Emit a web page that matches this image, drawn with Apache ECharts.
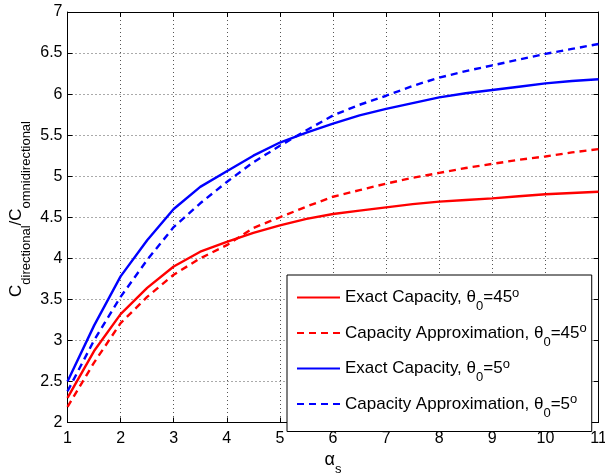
<!DOCTYPE html>
<html>
<head>
<meta charset="utf-8">
<script src="https://cdn.jsdelivr.net/npm/echarts@6/dist/echarts.min.js"></script>
<style>html,body{margin:0;padding:0;background:#fff}#chart{width:605px;height:475px}</style>
</head>
<body>
<div id="chart"></div>
<script>
const alphaS = [1, 1.5, 2, 2.5, 3, 3.5, 4, 4.5, 5, 5.5, 6, 6.5, 7, 7.5, 8, 8.5, 9, 9.5, 10, 10.5, 11];
const exact45 = [2.30, 2.87, 3.32, 3.64, 3.90, 4.08, 4.20, 4.31, 4.40, 4.48, 4.54, 4.58, 4.62, 4.66, 4.69, 4.71, 4.73, 4.755, 4.78, 4.795, 4.81];
const approx45 = [2.19, 2.73, 3.21, 3.53, 3.80, 4.00, 4.16, 4.37, 4.50, 4.63, 4.75, 4.83, 4.91, 4.98, 5.04, 5.10, 5.15, 5.20, 5.24, 5.29, 5.33];
const exact5 = [2.50, 3.18, 3.78, 4.22, 4.60, 4.87, 5.06, 5.25, 5.41, 5.53, 5.64, 5.74, 5.82, 5.89, 5.96, 6.01, 6.05, 6.09, 6.13, 6.16, 6.18];
const approx5 = [2.38, 3.00, 3.53, 3.98, 4.38, 4.67, 4.93, 5.17, 5.37, 5.56, 5.74, 5.87, 5.98, 6.10, 6.20, 6.28, 6.35, 6.42, 6.49, 6.55, 6.61];
const seriesNames = ['Exact Capacity, θ0=45o', 'Capacity Approximation, θ0=45o', 'Exact Capacity, θ0=5o', 'Capacity Approximation, θ0=5o'];
const xTicks = {min: 1, max: 11, interval: 1};
const yTicks = {min: 2, max: 7, interval: 0.5};

const FONT = 'Liberation Sans';
const pairs = arr => alphaS.map((a, i) => [a, arr[i]]);
const mk = (name, data, color, dashed) => ({
  name, type: 'line', data: pairs(data), symbol: 'none', smooth: false,
  lineStyle: {color, width: 2.4, type: dashed ? [7, 5] : 'solid'},
  itemStyle: {color}, z: 3
});
const gridLine = {show: true, lineStyle: {color: '#555', width: 1, type: [1, 3]}};
const chart = echarts.init(document.getElementById('chart'));
chart.setOption({
  animation: false,
  backgroundColor: '#fff',
  grid: {left: 67.5, right: 6.5, top: 12, bottom: 52.5, containLabel: false, outerBoundsMode: 'none'},
  graphic: [{
    type: 'text', x: 16, y: 209, rotation: Math.PI / 2,
    style: {
      text: '{c|C}{s|directional}{c|/C}{s|omnidirectional}',
      align: 'center', verticalAlign: 'middle', fill: '#000', font: '17px ' + FONT,
      rich: {
        c: {fontSize: 17, fontFamily: FONT, fill: '#000'},
        s: {fontSize: 13, fontFamily: FONT, fill: '#000', padding: [21, 0, 0, 0]}
      }
    }
  }],
  xAxis: [{
    type: 'value', min: xTicks.min, max: xTicks.max, interval: xTicks.interval,
    axisLine: {show: true, lineStyle: {color: '#000', width: 1}},
    axisTick: {show: true, inside: true, length: 5, lineStyle: {color: '#000'}},
    axisLabel: {color: '#000', fontSize: 16, fontFamily: FONT, margin: 8},
    splitLine: gridLine,
    name: '{a|α}{s|s}', nameLocation: 'middle', nameGap: 23,
    nameTextStyle: {color: '#000', fontFamily: FONT, rich: {
      a: {fontSize: 18, fontFamily: FONT, color: '#000'},
      s: {fontSize: 13, fontFamily: FONT, color: '#000', padding: [17, 0, 0, 0]}
    }}
  }, {
    type: 'value', position: 'top', min: xTicks.min, max: xTicks.max, interval: xTicks.interval,
    axisLine: {show: true, onZero: false, lineStyle: {color: '#000', width: 1}},
    axisTick: {show: true, inside: true, length: 5, lineStyle: {color: '#000'}},
    axisLabel: {show: false}, splitLine: {show: false}
  }],
  yAxis: [{
    type: 'value', min: yTicks.min, max: yTicks.max, interval: yTicks.interval,
    axisLine: {show: true, lineStyle: {color: '#000', width: 1}},
    axisTick: {show: true, inside: true, length: 5, lineStyle: {color: '#000'}},
    axisLabel: {color: '#000', fontSize: 16, fontFamily: FONT, margin: 5},
    splitLine: gridLine
  }, {
    type: 'value', position: 'right', min: yTicks.min, max: yTicks.max, interval: yTicks.interval,
    axisLine: {show: true, onZero: false, lineStyle: {color: '#000', width: 1}},
    axisTick: {show: true, inside: true, length: 5, lineStyle: {color: '#000'}},
    axisLabel: {show: false}, splitLine: {show: false}
  }],
  legend: {
    orient: 'vertical', left: 287, top: 275,
    padding: [11.5, 5, 12, 9], itemGap: 9, itemWidth: 43, itemHeight: 16,
    borderColor: '#000', borderWidth: 1, backgroundColor: '#fff',
    itemStyle: {opacity: 0},
    data: seriesNames,
    formatter: name => {
      const m = name.match(/^(.*)θ0=(\d+)o$/);
      return '{t|' + m[1] + 'θ}{s|0}{t|=' + m[2] + '}{u|o}';
    },
    textStyle: {color: '#000', fontFamily: FONT, fontSize: 17, rich: {
      t: {fontSize: 17, fontFamily: FONT, color: '#000'},
      s: {fontSize: 13, fontFamily: FONT, color: '#000', padding: [18, 0, 0, 0]},
      u: {fontSize: 13, fontFamily: FONT, color: '#000', padding: [0, 0, 9, 0]}
    }}
  },
  series: [
    mk(seriesNames[0], exact45, '#ff0000', false),
    mk(seriesNames[1], approx45, '#ff0000', true),
    mk(seriesNames[2], exact5, '#0000ff', false),
    mk(seriesNames[3], approx5, '#0000ff', true)
  ]
});
</script>
</body>
</html>
